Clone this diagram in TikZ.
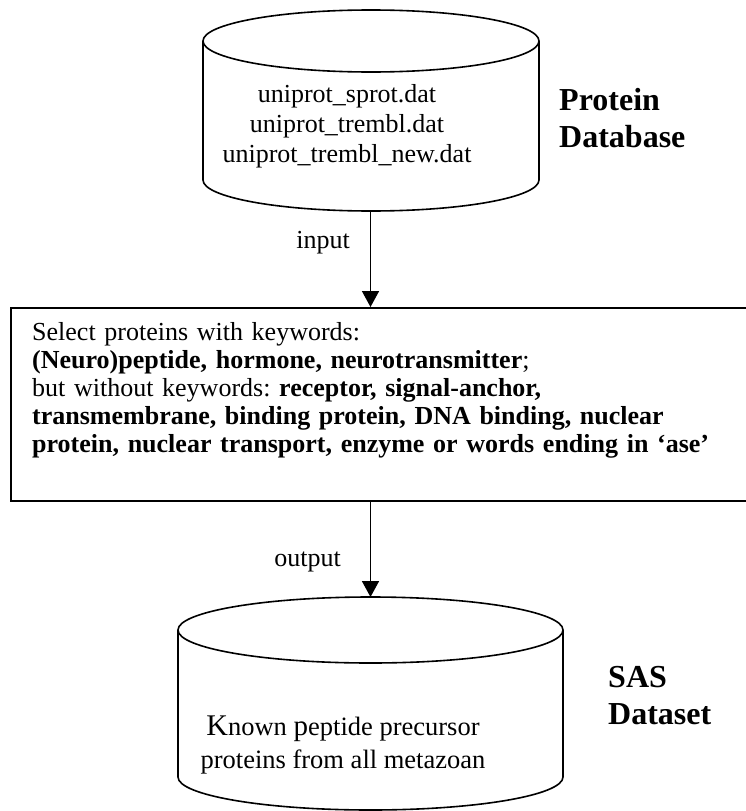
\documentclass[tikz,border=0pt]{standalone}
\usepackage{fontspec}
\setmainfont{Liberation Serif}
\usetikzlibrary{arrows.meta,calc,positioning}
\frenchspacing
% drum: left x, right x, top rim y, bottom rim y, rim radius
\newcommand{\dbdrum}[5]{%
  \pgfmathsetmacro{\dCx}{(#1+#2)/2}%
  \pgfmathsetmacro{\dRx}{(#2-#1)/2}%
  \draw[drumline] (\dCx,#3) ellipse[x radius=\dRx, y radius=#5];%
  \draw[drumline] (#1,#3) -- (#1,#4) arc[start angle=180, end angle=0, x radius=\dRx, y radius=#5] -- (#2,#3);%
}

\begin{document}
\begin{tikzpicture}[x=1pt,y=-1pt,
  drumline/.style={line width=1.6pt},
  flowarrow/.style={line width=1.6pt,-{Triangle[width=17pt,length=16pt]}},
  plain/.style={font=\fontsize{26}{30}\selectfont,inner sep=0pt},
  dbtitle/.style={font=\fontsize{32}{37}\selectfont\bfseries,inner sep=0pt,align=left,anchor=west}]
  \useasboundingbox (0,0) rectangle (746,811);
  % protein database
  \dbdrum{203}{539}{41}{180}{31}
  \node[plain,align=center] (dbfiles) at (347,126) {uniprot\_sprot.dat\\uniprot\_trembl.dat\\uniprot\_trembl\_new.dat};
  \node[dbtitle] (dbname) at (559,118) {Protein\\Database};
  \coordinate (protdb) at (370.5,211);
  % keyword filter
  \node[draw,line width=1.6pt,anchor=north west,minimum width=760pt,minimum height=193pt,inner sep=0pt] (selbox) at (10,307) {};
  \node[plain,anchor=north west,align=left,text width=710pt,font=\fontsize{26}{28}\selectfont] (seltext) at (32,322)
    {Select proteins with keywords:\\
     \textbf{(Neuro)peptide, hormone, neurotransmitter};\\
     but without keywords: \textbf{receptor, signal-anchor,}\\
     \textbf{transmembrane, binding protein, DNA binding, nuclear}\\
     \textbf{protein, nuclear transport, enzyme or words ending in ‘ase’}};
  % SAS dataset
  \dbdrum{178}{563}{630}{777}{33}
  \coordinate (sasdb) at (370.5,597);
  \node[plain,align=center,font=\fontsize{26.5}{33}\selectfont] (sastext) at (343,745)
    {{\fontsize{30}{30}\selectfont K}nown {\fontsize{29}{30}\selectfont p}eptide precursor\\proteins from all metazoan};
  \node[dbtitle] (sasname) at (608,696) {SAS\\Dataset};
  % flow
  \draw[flowarrow] (protdb) -- (protdb |- selbox.north);
  \node[plain,anchor=base east] (inlabel) at (350,248) {input};
  \draw[flowarrow] (selbox.south -| sasdb) -- (sasdb);
  \node[plain,anchor=base east] (outlabel) at (341,566) {output};
\end{tikzpicture}
\end{document}
